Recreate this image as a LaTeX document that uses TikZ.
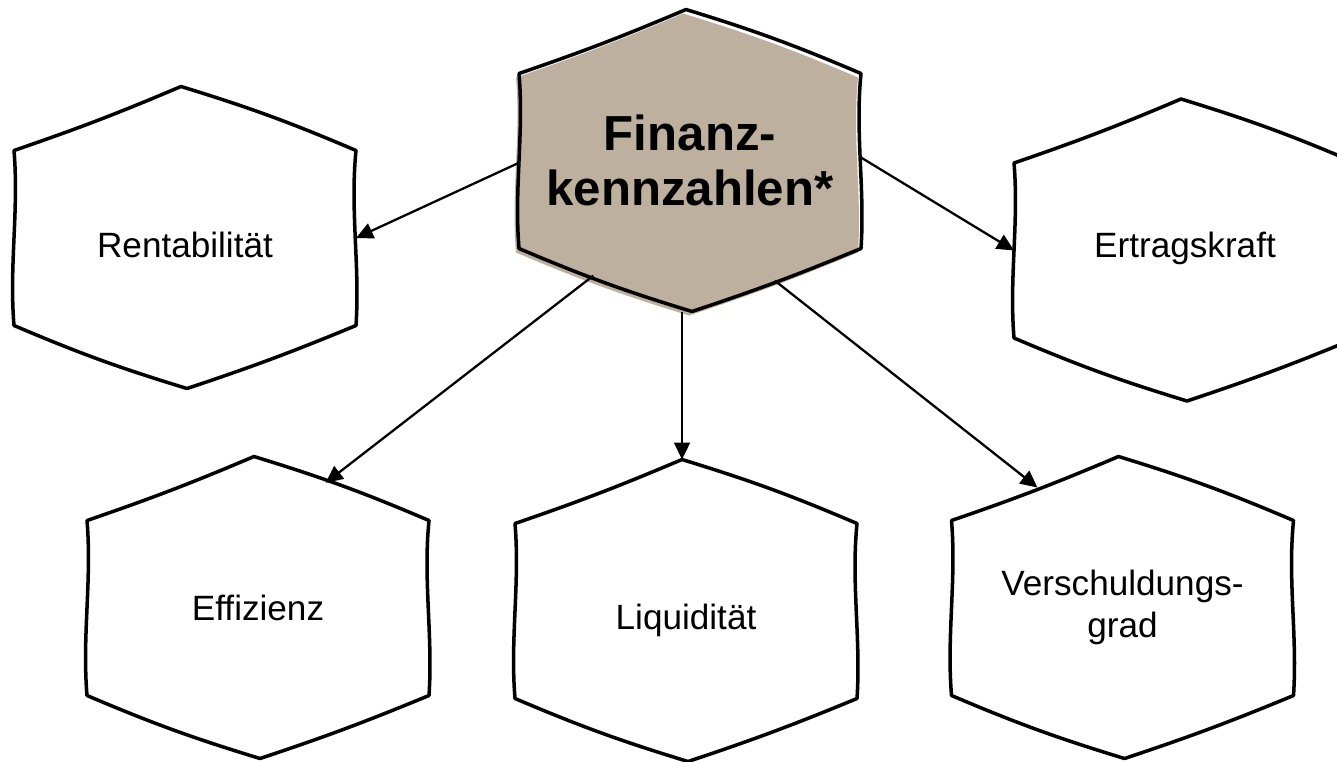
\documentclass[tikz,border=0pt]{standalone}
\usepackage{fontspec}
\setmainfont{Liberation Sans}
\usepackage{xcolor}
\definecolor{finanztan}{HTML}{BDB09E}
\usepackage{tikz}
\usetikzlibrary{arrows.meta,calc}

\pgfdeclarelayer{background}
\pgfsetlayers{background,main}

% hand drawn hexagon round a node, corners kept as coordinates
\newcommand{\hexframe}[3][]{%
  \begin{scope}[shift={(#3.center)},#1]
    \coordinate (#3-t) at (-4,-151);
    \coordinate (#3-ur) at (171,-87);
    \coordinate (#3-lr) at (171,88);
    \coordinate (#3-b) at (2,151);
    \coordinate (#3-ll) at (-171,88);
    \coordinate (#3-ul) at (-171,-87);
    \path[#2] (-4,-151) to[bend left=3] (171,-87)
      .. controls +(-6,60) and +(4,-60) .. (171,88)
      to[bend left=2] (2,151) to[bend left=3] (-171,88)
      .. controls +(-5,-60) and +(5,60) .. (-171,-87)
      to[bend right=2] (-4,-151) -- cycle;
  \end{scope}}
% move a label up or down inside its cell
\newcommand{\nudge}[2]{\raisebox{#1}[\height][\depth]{#2}}

\begin{document}
\begin{tikzpicture}[
        x=0.02cm, y=-0.02cm,
        hexcell/.style={minimum width=6.84cm, minimum height=6.04cm, inner sep=0pt, align=center, font=\fontsize{20}{24}\selectfont},
        topcell/.style={hexcell, font=\fontsize{28}{31}\selectfont\bfseries},
        hexline/.style={draw=black, line width=2pt, line join=round, fill=white},
        hexfill/.style={fill=finanztan},
        link/.style={-{Triangle[length=0.34cm, width=0.32cm]}, line width=1.3pt}
    ]
        \useasboundingbox (0,0) rectangle (1337,761);

        % Top
        \node[topcell] (fin) at (690,160.5) {Finanz-\\kennzahlen*};

        % Middle row
        \node[hexcell] (rent) at (185,237.5) {\nudge{-0.14cm}{Rentabilität}};
        \node[hexcell] (ert) at (1185,250) {\nudge{0.04cm}{Ertragskraft}};

        % Bottom row
        \node[hexcell] (eff) at (258,607.5) {Effizienz};
        \node[hexcell] (liq) at (686,610.5) {\nudge{-0.2cm}{Liquidität}};
        \node[hexcell] (ver) at (1122.5,607.5) {Verschuldungs-\\grad};

        % Frames
        \begin{pgfonlayer}{background}
            \hexframe[shift={(-3,4)}]{hexfill}{fin}
            \hexframe{hexline, fill=none}{fin}
            \hexframe{hexline}{rent}
            \hexframe{hexline}{ert}
            \hexframe{hexline}{eff}
            \hexframe{hexline}{liq}
            \hexframe{hexline}{ver}
        \end{pgfonlayer}

        % Arrows
        \draw[link] ($(fin-ul)!0.51!(fin-ll)$) -- ($(rent-ur)!0.5!(rent-lr)$);
        \draw[link] ($(fin-ur)!0.48!(fin-lr)$) -- ($(ert-ul)!0.5!(ert-ll)$);
        \draw[link] ($(fin-ll)!0.43!(fin-b)$) -- ($(eff-t)!0.41!(eff-ur)$);
        \draw[link] (liq-t |- fin-b) -- (liq-t);
        \draw[link] ($(fin-b)!0.49!(fin-lr)$) -- ($(ver-ul)!0.515!(ver-t)$);

    \end{tikzpicture}
\end{document}
